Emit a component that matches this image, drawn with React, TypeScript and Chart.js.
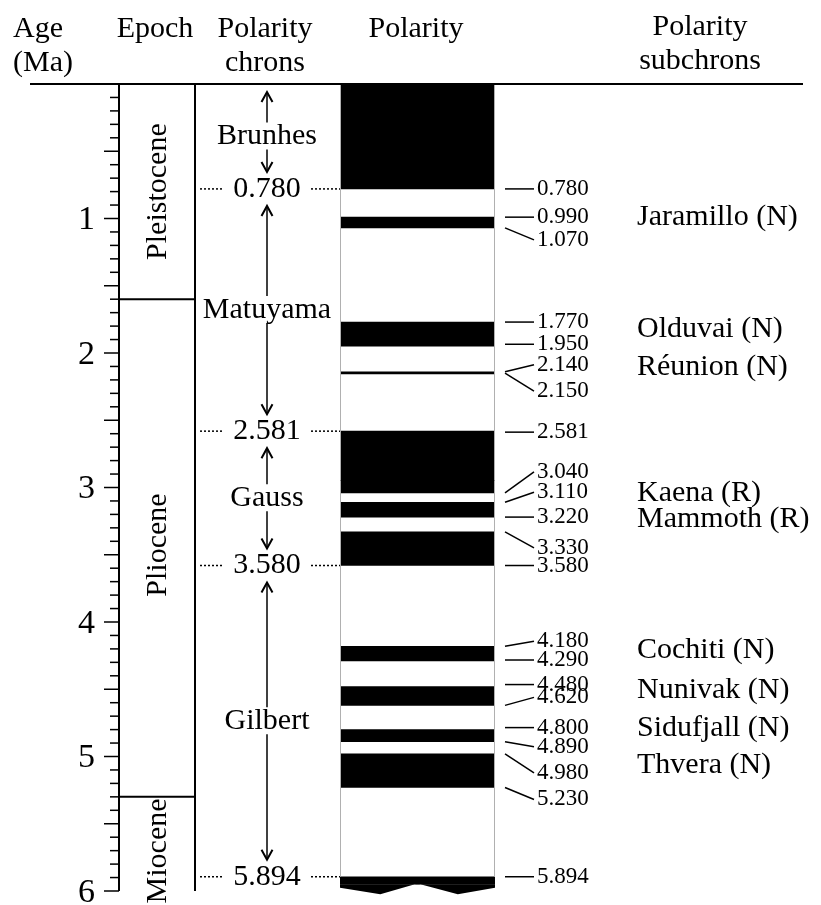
import { useEffect, useRef } from "react";
import { Chart, registerables } from "chart.js";

Chart.register(...registerables);

// Normal-polarity intervals (Ma)
const normalStarts = [0, 0.99, 1.77, 2.14, 2.581, 3.11, 3.33, 4.18, 4.48, 4.8, 4.98, 5.894];
const normalEnds = [0.78, 1.07, 1.95, 2.15, 3.04, 3.22, 3.58, 4.29, 4.62, 4.89, 5.23, 5.95];

// Age axis
const ageTicks = [1, 2, 3, 4, 5, 6];

// Epochs
const epochNames = ["Pleistocene", "Pliocene", "Miocene"];
const epochBounds = [0, 1.6, 5.3, 6];

// Polarity chrons
const chronNames = ["Brunhes", "Matuyama", "Gauss", "Gilbert"];
const chronBounds = [0, 0.78, 2.581, 3.58, 5.894];

// Subchron boundary ages (Ma)
const boundaryAges = [
  0.78, 0.99, 1.07, 1.77, 1.95, 2.14, 2.15, 2.581, 3.04, 3.11, 3.22, 3.33, 3.58,
  4.18, 4.29, 4.48, 4.62, 4.8, 4.89, 4.98, 5.23, 5.894,
];

// Named subchrons
const subchronNames = [
  "Jaramillo (N)", "Olduvai (N)", "Réunion (N)", "Kaena (R)", "Mammoth (R)",
  "Cochiti (N)", "Nunivak (N)", "Sidufjall (N)", "Thvera (N)",
];
const subchronStarts = [0.99, 1.77, 2.14, 3.04, 3.22, 4.18, 4.48, 4.8, 4.98];
const subchronEnds = [1.07, 1.95, 2.15, 3.11, 3.33, 4.29, 4.62, 4.89, 5.23];

// Label nudges (px) so crowded boundary labels do not overlap
const boundaryLabelShift = [0, 0, 12, 0, -2, -7, 18, 1, -21, -10, 0, 16, 0, -5, -1, -2, -8, -2, 5, 19, 12, 0];
const subchronLabelShift = [-5, -5, -5, -4, -5, -3, -6, -8, -5];
const epochLabelShift = [0, -3, 7];

const SERIF = "'Liberation Serif', 'Times New Roman', serif";

const timescalePlugin = {
  id: "timescale",
  afterDraw(chart: any) {
    const ctx: CanvasRenderingContext2D = chart.ctx;
    const ys = chart.scales.y;
    const area = chart.chartArea;
    const Y = (v: number) => ys.getPixelForValue(v);

    const line = (x1: number, y1: number, x2: number, y2: number, lw = 2, color = "#000") => {
      ctx.beginPath();
      ctx.strokeStyle = color;
      ctx.lineWidth = lw;
      ctx.moveTo(x1, y1);
      ctx.lineTo(x2, y2);
      ctx.stroke();
    };
    const arrow = (x: number, y0: number, y1: number) => {
      line(x, y0, x, y1, 1.5);
      const d = Math.sign(y1 - y0);
      ctx.beginPath();
      ctx.lineWidth = 2;
      ctx.moveTo(x - 5.5, y1 - d * 10);
      ctx.lineTo(x, y1);
      ctx.lineTo(x + 5.5, y1 - d * 10);
      ctx.stroke();
    };
    const text = (s: string, x: number, y: number, size: number, align: CanvasTextAlign = "center", base: CanvasTextBaseline = "middle") => {
      ctx.font = `${size}px ${SERIF}`;
      ctx.fillStyle = "#000";
      ctx.textAlign = align;
      ctx.textBaseline = base;
      ctx.fillText(s, x, y);
    };

    ctx.save();

    // truncated bottom of the polarity column
    const L = area.left;
    const W = area.right - area.left;
    const yCut = Y(normalEnds[normalEnds.length - 1]);
    ctx.beginPath();
    ctx.fillStyle = "#000";
    ctx.moveTo(L, yCut);
    ctx.lineTo(L + W, yCut);
    ctx.lineTo(L + W, Y(5.975));
    ctx.lineTo(L + W * 0.76, Y(6.025));
    ctx.lineTo(L + W * 0.5, Y(5.945));
    ctx.lineTo(L + W * 0.26, Y(6.025));
    ctx.lineTo(L, Y(5.975));
    ctx.closePath();
    ctx.fill();

    // faint column edges
    line(area.left + 0.5, Y(0), area.left + 0.5, Y(5.894), 1, "#b0b0b0");
    line(area.right - 0.5, Y(0), area.right - 0.5, Y(5.894), 1, "#b0b0b0");

    // headers
    text("Age", 13, 37, 30, "left", "alphabetic");
    text("(Ma)", 13, 71, 30, "left", "alphabetic");
    text("Epoch", 155, 37, 30, "center", "alphabetic");
    text("Polarity", 265, 37, 30, "center", "alphabetic");
    text("chrons", 265, 71, 30, "center", "alphabetic");
    text("Polarity", 416, 37, 30, "center", "alphabetic");
    text("Polarity", 700, 35, 30, "center", "alphabetic");
    text("subchrons", 700, 69, 30, "center", "alphabetic");

    // top rule
    line(30, Y(0), 803, Y(0), 2);

    // age axis
    const axisX = 119;
    line(axisX, Y(0), axisX, Y(6), 2);
    for (let i = 1; i <= 60; i++) {
      const v = i / 10;
      const major = i % 5 === 0;
      line(axisX - (major ? 15 : 9), Y(v), axisX, Y(v), 1.5);
    }
    ageTicks.forEach((t) => text(String(t), 95, Y(t) + 2, 34, "right"));

    // epoch column
    const epochRight = 195;
    line(epochRight, Y(0), epochRight, Y(6), 2);
    epochBounds.slice(1, -1).forEach((b) => line(axisX, Y(b), epochRight, Y(b), 2));
    epochNames.forEach((name, i) => {
      const yc = (Y(epochBounds[i]) + Y(epochBounds[i + 1])) / 2 + epochLabelShift[i];
      ctx.save();
      ctx.translate(158, yc);
      ctx.rotate(-Math.PI / 2);
      text(name, 0, 0, 30);
      ctx.restore();
    });

    // chron column
    const cx = 267;
    chronBounds.slice(1).forEach((b) => {
      const y = Y(b);
      text(b.toFixed(3), cx, y, 30);
      ctx.setLineDash([2, 2]);
      line(200, y, 224, y, 1.5);
      line(311, y, area.left, y, 1.5);
      ctx.setLineDash([]);
    });
    chronNames.forEach((name, i) => {
      const y0 = Y(chronBounds[i]);
      const y1 = Y(chronBounds[i + 1]);
      const ym = (y0 + y1) / 2;
      text(name, cx, ym, 30);
      arrow(cx, ym - 14, i === 0 ? y0 + 8 : y0 + 17);
      arrow(cx, ym + 13, y1 - 17);
    });

    // subchron boundary labels with leader lines
    const lx0 = 505;
    const lx1 = 534;
    boundaryAges.forEach((a, i) => {
      const ya = Y(a);
      const shift = boundaryLabelShift[i];
      const yl = ya + shift;
      if (Math.abs(shift) <= 2) line(lx0, yl, lx1, yl, 1.5);
      else line(lx0, ya, lx1, yl, 1.5);
      text(a.toFixed(3), 537, yl, 23, "left");
    });

    // subchron names
    subchronNames.forEach((name, i) => {
      const ym = (Y(subchronStarts[i]) + Y(subchronEnds[i])) / 2 + subchronLabelShift[i];
      text(name, 637, ym, 30, "left");
    });

    ctx.restore();
  },
};

export default function App() {
  const ref = useRef<HTMLCanvasElement | null>(null);

  useEffect(() => {
    if (!ref.current) return;
    const chart = new Chart(ref.current, {
      type: "bar",
      data: {
        labels: ["Polarity"],
        datasets: [
          {
            data: normalStarts.map((s, i) => ({ x: "Polarity", y: [s, normalEnds[i]] })) as any,
            backgroundColor: "#000",
            borderWidth: 0,
            barPercentage: 1,
            categoryPercentage: 1,
            minBarLength: 2,
          },
        ],
      },
      options: {
        responsive: false,
        animation: false,
        devicePixelRatio: 1,
        layout: { padding: { left: 340, right: 326, top: 84, bottom: 14 } },
        scales: {
          x: { display: false },
          y: { display: false, reverse: true, min: 0, max: 6 },
        },
        plugins: { legend: { display: false }, tooltip: { enabled: false } },
      },
      plugins: [timescalePlugin],
    });
    return () => chart.destroy();
  }, []);

  return (
    <div style={{ position: "absolute", left: 0, top: 0, width: 821, height: 905, background: "#fff" }}>
      <canvas ref={ref} width={821} height={905} />
    </div>
  );
}
